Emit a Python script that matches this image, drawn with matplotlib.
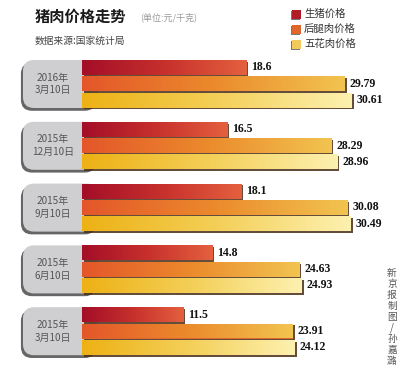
import numpy as np
import matplotlib
matplotlib.use("Agg")
from matplotlib import pyplot as plt
from matplotlib.colors import LinearSegmentedColormap
from matplotlib.patches import FancyBboxPatch
import matplotlib.patheffects as pe

plt.rcParams['font.family'] = ['Noto Sans CJK SC', 'DejaVu Sans']

# data (元/千克)
dates = ["2016年\n3月10日", "2015年\n12月10日", "2015年\n9月10日",
         "2015年\n6月10日", "2015年\n3月10日"]
live_pig = [18.6, 16.5, 18.1, 14.8, 11.5]      # 生猪价格
ham = [29.79, 28.29, 30.08, 24.63, 23.91]       # 后腿肉价格
belly = [30.61, 28.96, 30.49, 24.93, 24.12]     # 五花肉价格
series_names = ["生猪价格", "后腿肉价格", "五花肉价格"]
labels = [["18.6", "16.5", "18.1", "14.8", "11.5"],
          ["29.79", "28.29", "30.08", "24.63", "23.91"],
          ["30.61", "28.96", "30.49", "24.93", "24.12"]]

grads = [["#a30e28", "#c7302c", "#e4603e"],
         ["#e4562a", "#eb8a2c", "#f2c450"],
         ["#edb114", "#f4cf58", "#fdf1b0"]]
legend_cols = ["#b01c26", "#e0662c", "#f2c95a"]

W, H = 400, 377
px_per_unit = 8.82
fig = plt.figure(figsize=(W / 100, H / 100), dpi=100)
fig.patch.set_facecolor("white")

# background axes in pixel coords for decorations
bg = fig.add_axes([0, 0, 1, 1])
bg.set_xlim(0, W)
bg.set_ylim(H, 0)
bg.axis("off")

bg.text(35, 17, "猪肉价格走势", fontsize=11, fontweight="bold", color="#1a1a1a", va="center")
bg.text(140, 17, "(单位:元/千克)", fontsize=6.5, color="#999999", va="center")
bg.text(35, 41, "数据来源:国家统计局", fontsize=7, color="#444444", va="center")

for k, name in enumerate(series_names):
    y = 14 + 15 * k
    bg.add_patch(FancyBboxPatch((292, y - 4.5), 9, 9, boxstyle="square,pad=0",
                                facecolor=legend_cols[k], edgecolor="none",
                                path_effects=[pe.SimplePatchShadow(offset=(-0.8, -0.8),
                                                                   shadow_rgbFace="#555555", alpha=0.8),
                                              pe.Normal()]))
    bg.text(304, y, name, fontsize=7.5, color="#333333", va="center")

bg.text(392, 317, "\n".join("新京报制图/孙嘉潞"), fontsize=7, color="#555555",
        ha="center", va="center", linespacing=1.12)

group_top = [60 + 61.8 * i for i in range(5)]
for i, d in enumerate(dates):
    t = group_top[i]
    box = FancyBboxPatch((23, t), 75, 48,
                         boxstyle="round,pad=0,rounding_size=11",
                         facecolor="#cfcfd2", edgecolor="none",
                         path_effects=[pe.SimplePatchShadow(offset=(-1.5, -2),
                                                            shadow_rgbFace="#555555", alpha=0.9),
                                       pe.Normal()])
    bg.add_patch(box)
    bg.text(53, t + 24, d, fontsize=7.2, color="#555555", ha="center", va="center",
            linespacing=1.35)

# bar axes: x in price units, y in pixels
ax = fig.add_axes([82 / W, 0, (W - 82) / W, 1])
ax.set_xlim(0, (W - 82) / px_per_unit)
ax.set_ylim(H, 0)
ax.axis("off")
ax.patch.set_alpha(0)

series = [live_pig, ham, belly]
bar_h = 15
for s, vals in enumerate(series):
    cmap = LinearSegmentedColormap.from_list("g%d" % s, grads[s])
    grad = np.linspace(0, 1, 256).reshape(1, -1)
    for i, v in enumerate(vals):
        y0 = group_top[i] + 16.3 * s
        bar = ax.barh(y0 + bar_h / 2, v, height=bar_h, color=legend_cols[s],
                      edgecolor="none")[0]
        bar.set_path_effects([pe.SimplePatchShadow(offset=(1.3, -1.3),
                                                   shadow_rgbFace="#4a2e18", alpha=0.85),
                              pe.Normal()])
        im = ax.imshow(grad, cmap=cmap, aspect="auto",
                       extent=(0, v, y0 + bar_h, y0), zorder=3)
        im.set_clip_path(bar)
        ax.text(v + 0.55, y0 + bar_h / 2, labels[s][i], fontsize=8.5,
                family="Liberation Serif", fontweight="bold", color="#111111",
                va="center", ha="left", zorder=4)

ax.set_xlim(0, (W - 82) / px_per_unit)
ax.set_ylim(H, 0)

fig.savefig("out.png", dpi=100)
